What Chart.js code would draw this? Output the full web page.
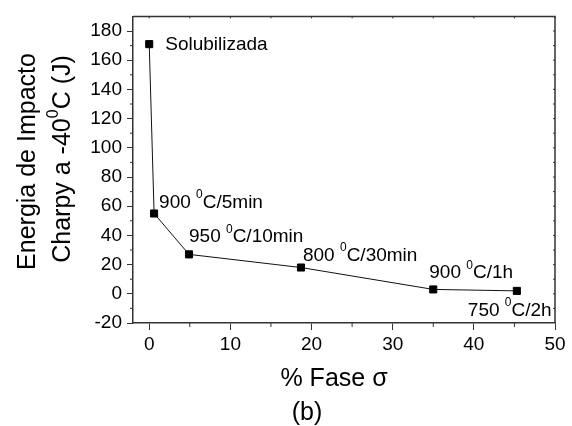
<!DOCTYPE html>
<html>
<head>
<meta charset="utf-8">
<script src="https://cdn.jsdelivr.net/npm/chart.js@4"></script>
<style>
  html, body { margin: 0; padding: 0; background: #fff; }
  #wrap { width: 572px; height: 426px; }
</style>
</head>
<body>
<div id="wrap"><canvas id="sigmaChart" width="572" height="426"></canvas></div>
<script>
// % sigma phase vs Charpy impact energy at -40 C
const fasePct = [0, 0.6, 4.9, 18.7, 35.0, 45.3];
const energia = [171, 55, 27, 18, 3, 2];
const tratamentos = ['Solubilizada', '900 ^0C/5min', '950 ^0C/10min', '800 ^0C/30min', '900 ^0C/1h', '750 ^0C/2h'];
const xTicks = [0, 10, 20, 30, 40, 50];
const yTicks = [-20, 0, 20, 40, 60, 80, 100, 120, 140, 160, 180];

const FONT = "'Liberation Sans', Arial, sans-serif";
const AXIS = '#333';

// label offsets from each point (px): left edge, baseline
const labelOffsets = [[16, 6], [5, -6], [0, -12], [2, -7], [-4, -11], [-49, 25]];

// text with ^0 style superscripts
function drawRich(ctx, str, x, y, size, align) {
  const parts = str.split(/\^(\d)/);
  const supSize = Math.round(size * 0.62);
  let total = 0;
  parts.forEach((p, i) => {
    ctx.font = (i % 2 ? supSize : size) + 'px ' + FONT;
    total += ctx.measureText(p).width;
  });
  let cx = align === 'center' ? x - total / 2 : x;
  ctx.textAlign = 'left';
  ctx.textBaseline = 'alphabetic';
  parts.forEach((p, i) => {
    const sup = i % 2 === 1;
    ctx.font = (sup ? supSize : size) + 'px ' + FONT;
    ctx.fillText(p, cx, sup ? y - size * 0.5 : y);
    cx += ctx.measureText(p).width;
  });
}

const extras = {
  id: 'extras',
  afterDraw(chart) {
    const ctx = chart.ctx;
    const xs = chart.scales.x, ys = chart.scales.y;
    const a = chart.chartArea;
    ctx.save();
    ctx.strokeStyle = AXIS;
    ctx.lineWidth = 1;
    // frame top / right
    ctx.lineWidth = 1.5;
    ctx.beginPath();
    ctx.moveTo(a.left, a.top); ctx.lineTo(a.right, a.top); ctx.lineTo(a.right, a.bottom);
    ctx.stroke();
    ctx.lineWidth = 1;
    ctx.beginPath();
    // minor ticks bottom / left, inner ticks top / right
    for (let v = 5; v < 50; v += 10) {
      const px = xs.getPixelForValue(v);
      ctx.moveTo(px, a.bottom); ctx.lineTo(px, a.bottom + 4);
    }
    for (let v = 0; v <= 50; v += 5) {
      const px = xs.getPixelForValue(v);
      ctx.moveTo(px, a.top); ctx.lineTo(px, a.top + 2);
    }
    for (let v = -10; v < 190; v += 20) {
      const py = ys.getPixelForValue(v);
      ctx.moveTo(a.left - 3, py); ctx.lineTo(a.left, py);
    }
    for (let v = -10; v <= 180; v += 10) {
      const py = ys.getPixelForValue(v);
      ctx.moveTo(a.right - 2, py); ctx.lineTo(a.right, py);
    }
    ctx.stroke();

    ctx.fillStyle = '#000';
    // point labels
    tratamentos.forEach((t, i) => {
      const px = xs.getPixelForValue(fasePct[i]);
      const py = ys.getPixelForValue(energia[i]);
      drawRich(ctx, t, px + labelOffsets[i][0], py + labelOffsets[i][1], 19, 'left');
    });
    // axis titles
    drawRich(ctx, '% Fase \u03c3', 334, 386, 25, 'center');
    drawRich(ctx, '(b)', 307, 420, 25, 'center');
    ctx.translate(34.5, 161.5);
    ctx.rotate(-Math.PI / 2);
    drawRich(ctx, 'Energia de Impacto', 0, 0, 25, 'center');
    ctx.rotate(Math.PI / 2);
    ctx.translate(70 - 34.5, 159 - 161.5);
    ctx.rotate(-Math.PI / 2);
    drawRich(ctx, 'Charpy a -40^0C (J)', 0, 0, 25, 'center');
    ctx.restore();
  }
};

const ctx1 = document.getElementById('sigmaChart').getContext('2d');
const sigmaChart = new Chart(ctx1, {
  type: 'line',
  data: {
    datasets: [{
      data: fasePct.map((x, i) => ({ x: x, y: energia[i] })),
      borderColor: '#111',
      borderWidth: 1,
      backgroundColor: '#000',
      pointStyle: 'rect',
      pointRadius: 5,
      pointBorderWidth: 1,
      pointBorderColor: '#000',
      tension: 0
    }]
  },
  options: {
    responsive: false,
    animation: false,
    layout: { padding: { top: 13, right: 17, left: 0, bottom: 0 } },
    plugins: { legend: { display: false }, tooltip: { enabled: false } },
    scales: {
      x: {
        type: 'linear',
        min: -2, max: 50,
        afterFit: s => { s.height = 103; },
        afterBuildTicks: s => { s.ticks = xTicks.map(v => ({ value: v })); },
        ticks: { color: '#000', font: { family: FONT, size: 19 }, padding: 3 },
        grid: { drawOnChartArea: false, drawTicks: true, tickLength: 7, color: AXIS },
        border: { color: AXIS, width: 1.5 }
      },
      y: {
        min: -20, max: 190,
        afterFit: s => { s.width = 133; },
        afterBuildTicks: s => { s.ticks = yTicks.map(v => ({ value: v })); },
        ticks: { color: '#000', font: { family: FONT, size: 19 }, padding: 5 },
        grid: { drawOnChartArea: false, drawTicks: true, tickLength: 6, color: AXIS },
        border: { color: AXIS, width: 1.5 }
      }
    }
  },
  plugins: [extras]
});
</script>
</body>
</html>
